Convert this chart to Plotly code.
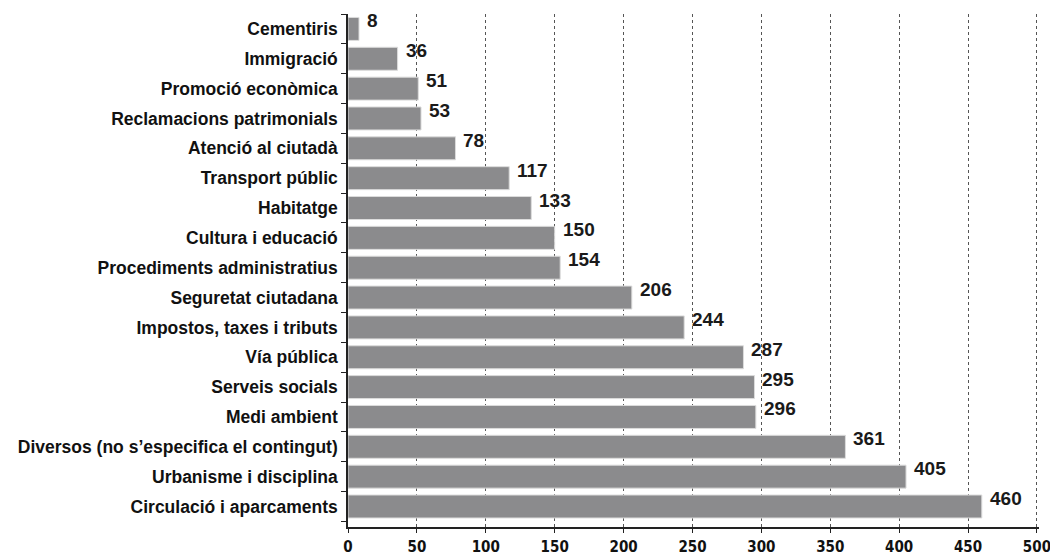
import plotly.graph_objects as go

categories = ["Cementiris", "Immigració", "Promoció econòmica", "Reclamacions patrimonials",
              "Atenció al ciutadà", "Transport públic", "Habitatge", "Cultura i educació",
              "Procediments administratius", "Seguretat ciutadana", "Impostos, taxes i tributs",
              "Vía pública", "Serveis socials", "Medi ambient",
              "Diversos (no s’especifica el contingut)", "Urbanisme i disciplina",
              "Circulació i aparcaments"]
values = [8, 36, 51, 53, 78, 117, 133, 150, 154, 206, 244, 287, 295, 296, 361, 405, 460]
x_ticks = [0, 50, 100, 150, 200, 250, 300, 350, 400, 450, 500]

fig = go.Figure()
fig.add_trace(go.Bar(
    y=categories, x=values, orientation="h",
    marker=dict(color="#8b8b8d", line=dict(color="#dcdcdc", width=1)),
    hoverinfo="x+y",
))

for c, v in zip(categories, values):
    fig.add_annotation(x=v, y=c, text=f"<b>{v}</b>", showarrow=False,
                       xanchor="left", yanchor="middle", xshift=6, yshift=8,
                       font=dict(family="Liberation Sans, Arial, sans-serif", size=19, color="#1a1a1a"))

fig.update_layout(
    width=1050, height=556,
    margin=dict(l=348, r=11, t=14, b=29),
    plot_bgcolor="white", paper_bgcolor="white",
    bargap=0.23,
    showlegend=False,
    xaxis=dict(
        range=[0, 501.5], tickvals=x_ticks, ticktext=[f"<b>{t}</b>" for t in x_ticks],
        showgrid=True, gridcolor="#555", griddash="dot", gridwidth=1,
        showline=True, linecolor="#222", linewidth=1.5,
        ticks="outside", ticklen=4, tickcolor="#222",
        tickfont=dict(family="DejaVu Sans Condensed, Liberation Sans Narrow, sans-serif", size=15, color="#111"),
        ticklabelstandoff=1, ticklabeloverflow="allow",
        zeroline=False, automargin=False,
    ),
    yaxis=dict(
        autorange="reversed",
        showline=True, linecolor="#222", linewidth=1.5,
        ticks="outside", ticklen=5, tickcolor="#222", tickson="boundaries",
        tickfont=dict(family="Liberation Sans, Arial, sans-serif", size=17.5, color="#111"),
        ticklabelstandoff=5, automargin=False,
    ),
)
fig.update_yaxes(ticktext=[f"<b>{c}</b>" for c in categories], tickvals=categories)

fig.write_html(
    "out.html",
    config={"displayModeBar": False},
    post_script="document.body.style.margin='0px';document.body.style.overflow='hidden';",
)
